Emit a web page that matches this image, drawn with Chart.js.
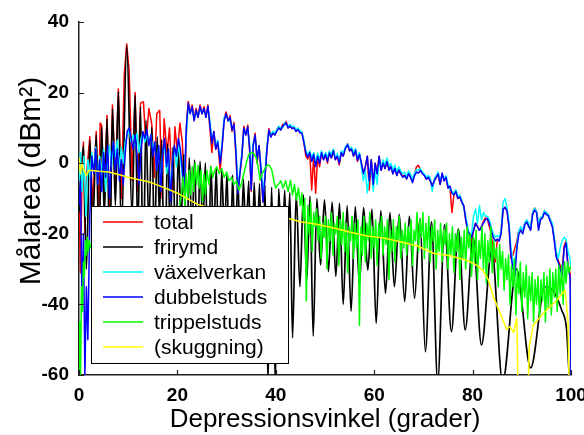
<!DOCTYPE html>
<html><head><meta charset="utf-8">
<script src="https://cdn.jsdelivr.net/npm/chart.js@4.4.0/dist/chart.umd.min.js"></script>
<style>html,body{margin:0;padding:0;background:#fff}#wrap{width:584px;height:435px}</style>
</head><body><div id="wrap"><canvas id="c" width="584" height="435"></canvas></div>
<script>
const angleTicks = [0, 20, 40, 60, 80, 100];
const levelTicks = [-60, -40, -20, 0, 20, 40];
const seriesNames = ['total', 'frirymd', 'växelverkan', 'dubbelstuds', 'trippelstuds', '(skuggning)'];
const xTitle = 'Depressionsvinkel (grader)';
const yTitle = 'Målarea (dBm²)';

const frirymd = [[0,-14],[0.9,5],[1.5,-30],[2.2,6.5],[2.8,-18],[3.5,8],[4.05,-25],[4.6,10.3],[5.15,-15],[5.7,12.7],[6.25,-30],[6.8,15.5],[7.4,-12],[8.0,20.3],[8.6,-20],[9.7,33.3],[10.8,-15],[11.4,19.3],[11.95,-20],[12.5,16],[13.05,-35],[13.6,12.2],[14.2,-18],[14.8,10.3],[15.35,-25],[15.9,7.5],[16.35,-15],[16.8,6.6],[17.4,-40],[18.0,5.5],[18.55,-20],[19.1,4.5],[19.65,-28],[20.2,3.5],[20.75,-16],[21.3,2.5],[21.85,-35],[22.4,1.5],[22.95,-20],[23.5,0.9],[24.05,-30],[24.6,0.5],[25.15,-18],[25.7,0],[26.25,-40],[26.8,-0.8],[27.35,-22],[27.9,-1.5],[28.45,-30],[29.0,-2.2],[29.55,-20],[30.1,-2.8],[30.65,-45],[31.2,-3.4],[31.75,-25],[32.3,-4],[32.85,-33],[33.4,-4.5],[33.95,-22],[34.5,-5],[35.05,-38],[35.6,-5.5],[36.15,-26],[36.7,-5.8],[37.25,-45],[37.8,-6.2],[38.4,-62],[39.15,-6.8],[39.9,-62],[40.6,-7.2],[41.25,-30],[41.8,-7.6],[42.3,-28],[42.85,-8.3],[43.4,-49.5],[44.15,-8.6],[44.9,-35],[45.6,-9],[46.3,-33],[46.95,-9.3],[47.6,-49],[48.35,-10],[49.1,-28.8],[49.9,-10.4],[50.7,-30.7],[51.45,-11],[52.2,-32.1],[52.95,-11.4],[53.7,-40],[54.5,-12],[55.3,-42],[56.15,-12.3],[57.0,-34.5],[57.85,-12.6],[58.7,-30.3],[59.55,-13],[60.4,-45.4],[61.35,-13.4],[62.3,-36.9],[63.2,-14],[64.1,-35],[65.1,-14.5],[66.2,-39.2],[67.15,-15],[68.2,-38.3],[69.3,-15.6],[70.4,-53.4],[71.65,-16.6],[72.9,-62],[74.3,-17.5],[75.7,-47.7],[77.1,-18.7],[78.5,-47.2],[80.1,-21],[81.8,-51.5],[83.9,-24.6],[86.1,-62],[88.9,-30],[91.8,-58],[94.7,-35],[96.4,-36.2],[98.1,-41.6],[99.1,-47],[99.8,-62],[100,-62]];

const dubbelstuds = [[0,-12],[0.3,-5],[0.6,-40],[0.9,-20],[1.2,-60],[1.5,-35],[1.8,-50],[2.2,-15],[2.6,2],[3.0,-3],[3.4,4],[3.8,-6],[4.2,1],[4.6,-8],[5.0,3],[5.4,-4],[5.8,5],[6.2,-10],[6.6,2],[7.0,6],[7.4,-2],[7.8,4],[8.2,-5],[8.6,1],[9.0,-6],[9.4,3],[9.8,9],[10.2,10],[10.6,7],[11.0,4],[11.4,8],[11.8,2],[12.2,-6],[12.6,3],[13.0,9],[13.4,7],[13.8,9.5],[14.2,5],[14.6,8],[15.0,2],[15.4,6],[15.8,-2],[16.2,5],[16.6,-8],[17.0,3],[17.4,7],[17.8,-1],[18.2,4],[18.6,-11],[19.0,0],[19.4,5],[19.8,2],[20.2,7],[20.6,4],[21.0,-2],[21.4,-8],[21.8,10],
[22.2,17],[22.6,14],[23.0,16],[23.4,12],[23.8,15],[24.2,13],[24.6,16],[25.0,14],[25.4,15.5],[25.8,13],[26.2,16.2],[26.6,11],[27.0,5.7],[27.4,9],[27.8,4],[28.2,6],[28.7,0],[29.1,5],[29.5,12],[29.9,14],[30.3,12],[30.7,13],[31.1,9.5],[31.5,11],[31.9,3],[32.3,-8.5],[32.7,-3],[33.1,2],[33.5,10],[33.9,8],[34.3,10.3],[34.7,4],[35.0,-7.6],[35.4,5],[35.8,8],[36.2,1],[36.6,5],[37.0,-2],[37.4,-11],[37.8,-4],[38.2,4],[38.6,9.4],[39.0,7.4],[39.4,8.5],[39.8,8],[40.2,9],[40.6,10],[41.0,9.4],[41.4,10.5],[41.8,11],[42.1,11.4],[42.5,10],[42.9,10.5],[43.3,9.8],[43.7,10],[44.1,9],[44.5,9.5],[44.9,8.6],[45.3,8.5],[45.7,6],[46.1,3],[46.5,1.7],[46.9,3],[47.3,0.5],[47.7,2.5],[48.1,-1],[48.5,2],[48.9,0],[49.3,3],[49.7,1],[50.1,2.5],[50.5,0.5],[50.9,2.9],[51.3,1.5],[51.7,3.5],[52.1,1],[52.5,2],[52.9,0],[53.3,3],[53.7,2],[54.1,4],[54.6,5.2],[55.0,3.5],[55.4,4],[55.8,2],[56.2,3.7],[56.6,0.8],[57.0,2.5],[57.4,0],[57.8,-2.9],[58.2,-1],[58.6,2],[59.0,-5],[59.4,1],[59.8,-6],[60.2,0],[60.6,-3],[61.0,2],[61.4,-2],[61.8,0],[62.2,-1.5],[62.6,0.5],[63.0,-2],[63.4,-1],[63.8,-3],[64.2,-1.5],[64.6,-3.5],[65.0,-2],[65.4,-3],[65.8,-4],[66.2,-3.5],[66.6,-4.5],[67.0,-3],[67.4,-4],[67.8,-5.5],[68.2,-3.5],[68.6,-2.5],[69.0,-2.8],[69.4,-2],[69.8,-3],[70.2,-3.5],[70.6,-4.5],[71.0,-4],[71.4,-5],[71.8,-6.5],[72.2,-5],[72.6,-4],[73.0,-3],[73.4,-6],[73.8,-2.8],[74.2,-5],[74.6,-4],[75.0,-7],[75.4,-6.5],[75.8,-8.5],[76.2,-9],[76.6,-8],[77.0,-10],[77.4,-9.5],[77.8,-11],[78.2,-12],[78.6,-16],[79.0,-19],[79.4,-20],[79.8,-21],[80.2,-19],[80.6,-17],[81.0,-18],[81.4,-19],[81.8,-18],[82.2,-17],[82.6,-16],[83.0,-15.7],[83.4,-17],[83.8,-19],[84.2,-21],[84.6,-22],[85.0,-21.5],[85.4,-22],[85.8,-20],[86.2,-13],[86.6,-12.5],[87.0,-13.5],[87.4,-18],[87.8,-26],[88.2,-30],[88.6,-32],[89.0,-24],[89.4,-20],[89.8,-19],[90.2,-20],[90.6,-17.5],[91.0,-16.6],[91.4,-18],[91.8,-19],[92.2,-14.5],[92.6,-13.3],[93.0,-14],[93.4,-19],[93.8,-16],[94.2,-15.5],[94.6,-14],[95.0,-14.5],[95.4,-15],[95.8,-16.5],[96.2,-18],[96.6,-22],[97.0,-26.6],[97.4,-28],[97.8,-30],[98.2,-32],[98.6,-24],[99.0,-22.6],[99.4,-30],[99.8,-32],[100,-62]];

const vaxelverkan = [[0,-5],[0.3,3],[0.6,-8],[1.0,2],[1.4,-15],[1.8,1],[2.2,-4],[2.6,3],[3.0,-2],[3.4,4.6],[3.8,-6],[4.2,2],[4.6,-3],[5.0,4],[5.4,-8],[5.8,1],[6.2,5],[6.6,-1],[7.0,6],[7.4,2],[7.8,6.6],[8.2,-2],[8.6,4.6],[9.0,0],[9.4,6],[9.8,8],[10.2,9.4],[10.6,6],[11.0,8],[11.4,5],[11.8,8.5],[12.2,3],[12.6,7],[13.0,8.5],[13.4,6],[13.8,8],[14.2,5.7],[14.6,8],[15.0,4],[15.4,6],[15.8,-2],[16.2,4.6],[16.6,-6],[17.0,3],[17.4,5],[17.8,-3],[18.2,2],[18.6,-8],[19.0,1],[19.4,4],[19.8,-1],[20.2,5],[20.6,2],[21.0,-4],[21.4,-6],[21.8,8],
[22.2,16],[22.6,15],[23.0,15],[23.4,13],[23.8,14],[24.2,14],[24.6,15],[25.0,15],[25.4,14.5],[25.8,14],[26.2,15.5],[26.6,12],[27.0,7],[27.4,8],[27.8,5],[28.2,6.5],[28.7,1],[29.1,6],[29.5,13],[29.9,13.5],[30.3,12.5],[30.7,12],[31.1,10],[31.5,10.5],[31.9,4],[32.3,-7.5],[32.7,-2],[33.1,3],[33.5,9],[33.9,9],[34.3,9.5],[34.7,5],[35.0,-5],[35.4,6],[35.8,7],[36.2,2],[36.6,4],[37.0,-1],[37.4,-9],[37.8,-3],[38.2,5],[38.6,9],[39.0,8],[39.4,9],[39.8,8.5],[40.2,9.5],[40.6,10.5],[41.0,10],[41.4,10],[41.8,11.5],[42.1,11],[42.5,10.5],[42.9,11],[43.3,10.3],[43.7,10.5],[44.1,9.5],[44.5,10],[44.9,9.2],[45.3,8.8],[45.7,6.5],[46.1,3.5],[46.5,2.3],[46.9,3.5],[47.3,1.5],[47.7,3],[48.1,0],[48.5,2.8],[48.9,1],[49.3,3.5],[49.7,1.5],[50.1,3],[50.5,1.5],[50.9,3.5],[51.3,2.3],[51.7,4],[52.1,1.5],[52.5,2.8],[52.9,0.5],[53.3,3.5],[53.7,2.8],[54.1,4.5],[54.6,5.5],[55.0,4.2],[55.4,4.5],[55.8,2.8],[56.2,4.2],[56.6,1.5],[57.0,3],[57.4,-1],[57.8,-5],[58.2,-2],[58.6,-8.4],[59.0,-3],[59.4,-1],[59.8,-8],[60.2,-2],[60.6,-6],[61.0,1],[61.4,-1],[61.8,1],[62.2,-0.5],[62.6,1.5],[63.0,-1],[63.4,0],[63.8,-2],[64.2,-0.5],[64.6,-2.5],[65.0,-1],[65.4,-2.2],[65.8,-3],[66.2,-2.5],[66.6,-3.8],[67.0,-2.2],[67.4,-3.2],[67.8,-4.5],[68.2,-2.8],[68.6,-1.8],[69.0,-2],[69.4,-1.5],[69.8,-2.5],[70.2,-3],[70.6,-4],[71.0,-3.5],[71.4,-4.2],[71.8,-8],[72.2,-4.5],[72.6,-3.5],[73.0,-2.5],[73.4,-5],[73.8,-3.5],[74.2,-4.5],[74.6,-3.5],[75.0,-6],[75.4,-7.5],[75.8,-8],[76.2,-8.5],[76.6,-7.5],[77.0,-9.5],[77.4,-9],[77.8,-10.5],[78.2,-12.5],[78.6,-15],[79.0,-18],[79.4,-21],[79.8,-20],[80.2,-15],[80.6,-13],[81.0,-17],[81.4,-12],[81.8,-16],[82.2,-14],[82.6,-15],[83.0,-15],[83.4,-16],[83.8,-18],[84.2,-20],[84.6,-21],[85.0,-20.5],[85.4,-21],[85.8,-19],[86.2,-11],[86.6,-10],[87.0,-12.5],[87.4,-17],[87.8,-24],[88.2,-28],[88.6,-30],[89.0,-23],[89.4,-19],[89.8,-18],[90.2,-19],[90.6,-17],[91.0,-16],[91.4,-17],[91.8,-18],[92.2,-14],[92.6,-12.8],[93.0,-13.5],[93.4,-17],[93.8,-15.5],[94.2,-15],[94.6,-13.5],[95.0,-14],[95.4,-14.5],[95.8,-16],[96.2,-17],[96.6,-21],[97.0,-25],[97.4,-27],[97.8,-24],[98.2,-22],[98.6,-21],[99.0,-21.5],[99.4,-25],[99.8,-27],[100,-30]];

const total = [[0,-10],[0.3,-31],[0.6,-5],[0.9,6],[1.2,-20],[1.6,-2],[2.2,7.5],[2.8,-12],[3.5,9],[4.0,-15],[4.3,11.4],[4.6,10.8],[5.1,-10],[5.7,13.5],[6.2,-14],[6.8,16.5],[7.4,-6],[8.0,21],[8.6,-10],[9.2,25],[9.7,33.8],[10.2,26],[10.8,-5],[11.4,20],[11.9,-8],[12.5,17],[13.1,17.4],[13.6,5],[14.2,15.5],[14.8,11],[15.3,-4],[15.8,14],[16.4,15],[16.9,-10],[17.3,12.6],[17.9,3],[18.4,10],[19.0,-8],[19.5,10.3],[20.0,3],[20.5,11.4],[21.0,6],[21.5,-10],[21.9,12],
[22.2,17.5],[22.6,14.5],[23.0,16.5],[23.4,12.5],[23.8,15.5],[24.2,13],[24.6,16.5],[25.0,14],[25.4,16],[25.8,13],[26.2,16.5],[26.6,10],[27.0,3],[27.4,9],[27.8,4],[28.2,6],[28.7,-2],[29.1,5],[29.5,12.5],[29.9,14.5],[30.3,12],[30.7,13.5],[31.1,9],[31.5,11.5],[31.9,2],[32.3,-9],[32.7,-3],[33.1,2],[33.5,10.5],[33.9,8],[34.3,10.8],[34.7,3],[35.0,-8],[35.4,5],[35.8,8.5],[36.2,0],[36.6,5],[37.0,-3],[37.4,-11],[37.8,-4],[38.2,4],[38.6,9.8],[39.0,7.4],[39.4,9],[39.8,8],[40.2,9.5],[40.6,10.3],[41.0,9.4],[41.4,11],[41.8,11.2],[42.1,11.8],[42.5,10],[42.9,10.8],[43.3,9.8],[43.7,10.3],[44.1,9],[44.5,9.8],[44.9,8.8],[45.3,8.8],[45.7,6],[46.1,2],[46.5,1.2],[46.9,3],[47.3,-7.6],[47.7,2],[48.1,-8.5],[48.5,2],[48.9,-1],[49.3,3],[49.7,1],[50.1,2.5],[50.5,0],[50.9,3.2],[51.3,1.5],[51.7,3.8],[52.1,1],[52.5,2],[52.9,-0.5],[53.3,3],[53.7,2],[54.1,4.3],[54.6,5.6],[55.0,3.5],[55.4,4.3],[55.8,2],[56.2,3.7],[56.6,0.5],[57.0,2.5],[57.4,0],[57.8,-3],[58.2,-1],[58.6,2],[59.0,-7.6],[59.4,1],[59.8,-6],[60.2,0],[60.6,-3],[61.0,2],[61.4,-2],[61.8,0.5],[62.2,-1.5],[62.6,0.5],[63.0,-1.5],[63.4,-0.5],[63.8,-3],[64.2,-1],[64.6,-3.5],[65.0,-1.5],[65.4,-3],[65.8,-3.5],[66.2,-3.5],[66.6,-4],[67.0,-2.5],[67.4,-4],[67.8,-5],[68.2,-3],[68.6,-1],[69.0,-0.6],[69.4,-2],[69.8,-2.5],[70.2,-3.5],[70.6,-4.5],[71.0,-4],[71.4,-5],[71.8,-6.5],[72.2,-5],[72.6,-4],[73.0,-3],[73.4,-6],[73.8,-3],[74.2,-5],[74.6,-4],[75.0,-7],[75.4,-7],[75.8,-14],[76.2,-9],[76.6,-8],[77.0,-10],[77.4,-9.5],[77.8,-11],[78.2,-12],[78.6,-16],[79.0,-19],[79.4,-21],[79.8,-22],[80.2,-19],[80.6,-17],[81.0,-18],[81.4,-19],[81.8,-18],[82.2,-16.5],[82.6,-15.5],[83.0,-15.8],[83.4,-18],[83.8,-20],[84.2,-25],[84.6,-28],[85.0,-22],[85.4,-22],[85.8,-19],[86.2,-13],[86.6,-12.5],[87.0,-13.5],[87.4,-18],[87.8,-27],[88.2,-26],[88.6,-24],[89.0,-22],[89.4,-19],[89.8,-18.5],[90.2,-19],[90.6,-17],[91.0,-16.2],[91.4,-17.5],[91.8,-18.5],[92.2,-14],[92.6,-12.7],[93.0,-13.5],[93.4,-18],[93.8,-15.5],[94.2,-15],[94.6,-13.5],[95.0,-14],[95.4,-14.5],[95.8,-16],[96.2,-17.5],[96.6,-21.5],[97.0,-26],[97.4,-27.5],[97.8,-29],[98.2,-31],[98.6,-23.5],[99.0,-22],[99.4,-29],[99.8,-31],[100,-35]];

const trippelstuds = [[0,-62],[0.15,-45],[0.3,-62],[0.5,-35],[0.7,-42],[0.9,-28],[1.1,-32],[1.3,-22],[1.5,-26],[1.7,-21],[1.9,-25],[2.1,-22],[2.4,-24],[3,-24],[5,-22],[7,-25],[9,-20],[11,-23],[13,-19],[15,-22],[17,-17],[19,-20],[20.2,-14],[20.8,-9],[21.2,-4],[21.5,-12],[21.8,-3],[22.1,-10],[22.4,-2],[22.7,-9],[23.0,-1],[23.3,-8],[23.6,0],[23.9,-6],[24.2,-0.6],[24.5,-7],[24.8,-2],[25.1,-11],[25.4,-3],[25.7,-9],[26.0,-2],[26.4,-6],[26.8,-1],[27.2,-4],[27.6,-2],[28.0,-1],[28.5,-3],[29.0,-1.5],[29.5,-4],[30.0,-2.5],[30.5,-5],[31.0,-4],[31.5,-6],[32.0,-5],[32.5,-7.6],[33.0,-6],[33.5,-3],[34.0,0],[34.5,2.5],[35.0,3],[35.5,2.8],[36.0,1.5],[36.4,-1],[36.8,-4.8],[37.2,-3],[37.6,-2],[38.0,-1],[38.4,-0.5],[38.8,-0.8],[39.2,-2],[39.6,-5],[40.0,-7],[40.5,-6],[41.0,-5],[41.5,-7],[42.0,-5],[42.5,-8],[43.0,-4.8],[43.4,-9],[43.8,-6],[44.2,-10.4],[44.6,-7],[45.0,-12],[45.3,-8.5],[45.6,-16],[45.9,-10],[46.2,-39],[46.5,-12],[46.8,-20],[47.1,-11],[47.4,-25],[47.7,-14],[48.0,-18],[48.3,-13],[48.6,-22],[48.9,-15],[49.2,-27],[49.5,-17],[49.8,-21],[50.1,-15],[50.4,-30],[50.7,-16],[51.0,-22],[51.3,-14],[51.6,-26],[51.9,-17],[52.2,-20],[52.5,-15],[52.8,-29],[53.1,-16],[53.4,-23],[53.7,-14],[54.0,-25],[54.3,-17],[54.6,-31],[54.9,-18],[55.2,-22],[55.5,-15],[55.8,-27],[56.1,-17],[56.4,-24],[56.7,-16],[57.0,-46],[57.3,-18],[57.6,-26],[57.9,-15],[58.2,-28],[58.5,-17],[58.8,-22],[59.1,-14],[59.4,-27],[59.7,-18],[60.0,-24],[60.3,-16],[60.6,-29],[60.9,-17],[61.2,-21],[61.5,-15],[61.8,-26],[62.1,-18],[62.4,-23],[62.7,-16],[63.0,-33],[63.3,-19],[63.6,-25],[63.9,-16],[64.2,-28],[64.5,-18],[64.8,-22],[65.1,-15],[65.4,-27],[65.7,-19],[66.0,-24],[66.3,-17],[66.6,-26],[66.9,-18],[67.2,-23],[67.5,-16],[67.8,-29],[68.1,-19],[68.4,-22],[68.7,-14],[69.0,-25],[69.3,-16],[69.6,-21],[69.9,-14],[70.2,-27],[70.5,-17],[70.8,-24],[71.1,-15],[71.4,-28],[71.7,-18],[72.0,-22],[72.3,-16],[72.6,-30],[72.9,-19],[73.2,-25],[73.5,-17],[73.8,-28],[74.1,-19],[74.4,-23],[74.7,-17],[75.0,-30],[75.3,-20],[75.6,-26],[75.9,-18],[76.2,-31],[76.5,-20],[76.8,-25],[77.1,-19],[77.4,-33],[77.7,-21],[78.0,-27],[78.3,-19],[78.6,-30],[78.9,-18],[79.2,-24],[79.5,-20],[79.8,-32],[80.1,-21],[80.4,-28],[80.7,-19],[81.0,-33],[81.3,-22],[81.6,-27],[81.9,-18],[82.2,-30],[82.5,-20],[82.8,-34],[83.1,-22],[83.4,-28],[83.7,-18],[84.0,-31],[84.3,-22],[84.6,-27],[84.9,-24],[85.2,-35],[85.5,-23],[85.8,-30],[86.1,-25],[86.4,-36],[86.7,-27],[87.0,-33],[87.3,-26],[87.6,-40],[87.9,-29],[88.2,-35],[88.5,-27],[88.8,-43],[89.1,-30],[89.4,-37],[89.7,-28],[90.0,-42],[90.3,-31],[90.6,-38],[90.9,-29],[91.2,-44],[91.5,-32],[91.8,-39],[92.1,-31],[92.4,-45],[92.7,-33],[93.0,-40],[93.3,-32],[93.6,-44],[93.9,-33],[94.2,-39],[94.5,-31],[94.8,-45],[95.1,-32],[95.4,-41],[95.7,-30],[96.0,-43],[96.3,-31],[96.6,-38],[96.9,-30],[97.2,-42],[97.5,-29],[97.8,-37],[98.1,-29],[98.4,-40],[98.7,-28],[99.0,-34],[99.3,-28],[99.6,-31],[100,-29]];

const skuggning = [[0,1.5],[0.3,-3],[0.6,0],[1.0,-2],[1.5,-3.5],[2,-2],[4,-2.3],[6,-2.5],[8,-3.2],[10,-4],[12,-4.6],[14,-5.2],[16,-6.2],[18,-7.3],[20,-8.5],[22,-10],[24,-11.6],[26,-12.5],[30,-13.5],[35,-14.5],[40,-15.2],[43,-15.8],[45,-16.6],[48,-17.2],[52,-18.4],[55,-19.5],[58.5,-20.6],[62,-21.2],[65,-22.2],[68.7,-23.4],[72,-25.5],[75.4,-26.2],[78.8,-27.5],[81,-29],[82.1,-30.5],[83.2,-33],[84.2,-37.8],[85.6,-42.5],[86.9,-47],[87.6,-46.3],[88.3,-48],[89.0,-44],[89.3,-70],[91.2,-70],[91.5,-52],[92.3,-46],[94.4,-42.5],[97.1,-38.8],[98.8,-36],[99.4,-45],[99.7,-70],[100,-70]];

const FONT = '"Liberation Sans", Arial, sans-serif';
const seriesData = [total, frirymd, vaxelverkan, dubbelstuds, trippelstuds, skuggning];
const seriesColors = ['#ff0000', '#000000', '#00ffff', '#0000ff', '#00ff00', '#ffff00'];

const datasets = seriesData.map((d, i) => ({
  label: seriesNames[i],
  data: d.map(p => ({x: p[0], y: p[1]})),
  borderColor: seriesColors[i],
  borderWidth: i === 1 ? 1.7 : 1.5,
  pointRadius: 0,
  fill: false,
  borderJoinStyle: 'round',
  cubicInterpolationMode: i === 1 ? 'monotone' : 'default',
  order: 5 - i
}));

const inwardTicks = {
  id: 'inwardTicks',
  afterDatasetsDraw(chart) {
    const {ctx, chartArea: a, scales} = chart;
    ctx.save();
    ctx.strokeStyle = '#222';
    ctx.lineWidth = 1.2;
    ctx.beginPath();
    angleTicks.forEach(v => {
      const x = Math.round(scales.x.getPixelForValue(v)) + 0.5;
      ctx.moveTo(x, a.bottom); ctx.lineTo(x, a.bottom - 5);
    });
    levelTicks.forEach(v => {
      const y = Math.round(scales.y.getPixelForValue(v)) + 0.5;
      ctx.moveTo(a.left, y); ctx.lineTo(a.left + 5, y);
    });
    ctx.stroke();
    ctx.restore();
  }
};

const boxLegend = {
  id: 'boxLegend',
  afterDatasetsDraw(chart) {
    const {ctx, chartArea: a} = chart;
    const L = a.left + 12, T = a.top + 184, W = 197, H = 157;
    ctx.save();
    ctx.fillStyle = '#fff';
    ctx.fillRect(L, T, W, H);
    ctx.strokeStyle = '#000';
    ctx.lineWidth = 1;
    ctx.strokeRect(L + 0.5, T + 0.5, W, H);
    ctx.font = '21px ' + FONT;
    ctx.textBaseline = 'middle';
    ctx.fillStyle = '#000';
    chart.data.datasets.forEach((ds, i) => {
      const y = T + 16 + i * 25;
      ctx.strokeStyle = ds.borderColor;
      ctx.lineWidth = 1.5;
      ctx.beginPath();
      ctx.moveTo(L + 12, y); ctx.lineTo(L + 52, y);
      ctx.stroke();
      ctx.fillText(ds.label, L + 63, y + 1);
    });
    ctx.restore();
  }
};

const yAxisTitle = {
  id: 'yAxisTitle',
  afterDraw(chart) {
    const {ctx} = chart;
    ctx.save();
    ctx.translate(32, 181);
    ctx.rotate(-Math.PI / 2);
    ctx.font = '30px ' + FONT;
    ctx.fillStyle = '#000';
    ctx.textAlign = 'center';
    ctx.textBaseline = 'middle';
    ctx.fillText(yTitle, 0, 0);
    ctx.restore();
  }
};

new Chart(document.getElementById('c'), {
  type: 'line',
  data: {datasets},
  options: {
    responsive: false,
    animation: false,
    devicePixelRatio: 1,
    layout: {padding: {top: 22, right: 13, bottom: 0, left: 0}},
    plugins: {legend: {display: false}, tooltip: {enabled: false}},
    scales: {
      x: {
        type: 'linear', min: 0, max: 100,
        afterBuildTicks: s => { s.ticks = angleTicks.map(v => ({value: v})); },
        afterFit: s => { s.height = 60; s.paddingLeft = 0; s.paddingRight = 0; },
        grid: {display: false, drawTicks: false},
        border: {display: true, color: '#222', width: 1.5},
        ticks: {autoSkip: false, maxRotation: 0, color: '#000', padding: 9, font: {family: FONT, size: 19, weight: 'bold'}},
        title: {display: true, text: xTitle, color: '#000', padding: 0, font: {family: FONT, size: 26}}
      },
      y: {
        type: 'linear', min: -60, max: 40,
        afterBuildTicks: s => { s.ticks = levelTicks.map(v => ({value: v})); },
        afterFit: s => { s.width = 79; },
        grid: {display: false, drawTicks: false},
        border: {display: true, color: '#222', width: 1.5},
        ticks: {color: '#000', padding: 10, font: {family: FONT, size: 19, weight: 'bold'}},
        title: {display: false}
      }
    }
  },
  plugins: [inwardTicks, boxLegend, yAxisTitle]
});
</script>
</body></html>
